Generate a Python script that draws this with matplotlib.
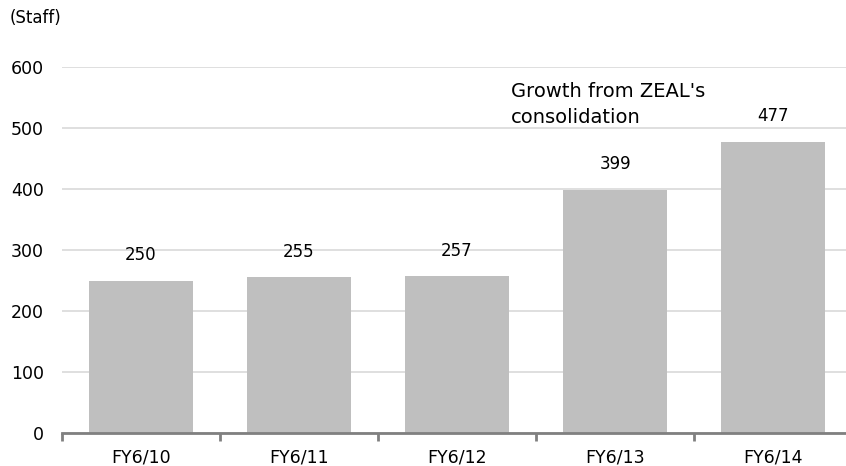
import matplotlib.pyplot as plt
import numpy as np

plt.rcParams['font.family'] = ['DejaVu Sans']

categorias = ['FY6/10', 'FY6/11', 'FY6/12', 'FY6/13', 'FY6/14']
funcionarios = [250, 255, 257, 399, 477]
yticks = [0, 100, 200, 300, 400, 500, 600]

fig = plt.figure(figsize=(8.46, 4.66), dpi=100)
ax = fig.add_axes([62/846, 1 - 433/466, (846 - 62)/846, (433 - 67)/466])

x = np.arange(len(categorias))
ax.bar(x, funcionarios, width=0.66, color='#bfbfbf', zorder=2)

# rotulos dos valores
for xi, v in zip(x, funcionarios):
    ax.annotate(str(v), (xi, v), xytext=(0, 12), textcoords='offset points',
                ha='center', va='bottom', fontsize=12, color='#000000')

ax.set_yticks(yticks)
ax.yaxis.grid(True, color='#d9d9d9', linewidth=1.2, zorder=0)
ax.set_axisbelow(True)

for s in ['top', 'right', 'left']:
    ax.spines[s].set_visible(False)
ax.spines['bottom'].set_color('#808080')
ax.spines['bottom'].set_linewidth(2)

ax.tick_params(axis='y', length=0, pad=13, labelsize=12.5)
ax.set_xticks(x)
ax.set_xticklabels(categorias, fontsize=12.5)
ax.tick_params(axis='x', length=0, pad=11)
# marcas entre categorias
ax.set_xticks(np.arange(len(categorias) + 1) - 0.5, minor=True)
ax.tick_params(axis='x', which='minor', length=6, width=2, color='#808080')

# limites depois dos ticks (set_xticks expande a vista)
ax.set_xlim(-0.5, len(categorias) - 0.5 - 0.038)
ax.set_ylim(0, 600)

ax.text(2.34, 576, "Growth from ZEAL's\nconsolidation", fontsize=14,
        ha='left', va='top', linespacing=1.5)

fig.text(10/846, 1 - 18/466, '(Staff)', fontsize=12, ha='left', va='center')

fig.savefig('out.png', dpi=100)
